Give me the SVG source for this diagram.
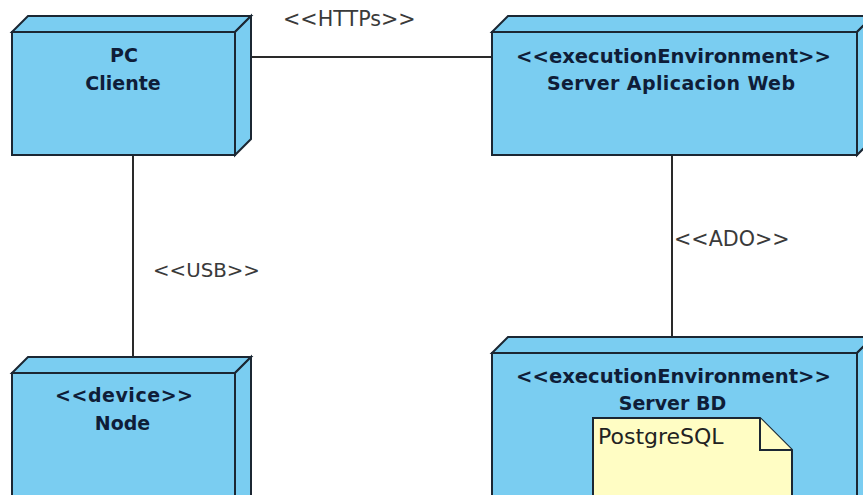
<svg xmlns="http://www.w3.org/2000/svg" width="863" height="495" viewBox="0 0 863 495">
<style>
.box{fill:#7acdf1;stroke:#1b2733;stroke-width:2;stroke-linejoin:miter}
.nt{font-family:"DejaVu Sans",sans-serif;font-weight:bold;font-size:19px;fill:#0f1d38;text-anchor:middle}
.lbl{font-family:"DejaVu Sans",sans-serif;font-size:20.7px;fill:#3a3a3a}
.conn{stroke:#2a2a2a;stroke-width:2;fill:none}
.note{fill:#fffdc4;stroke:#1b2733;stroke-width:2}
</style>
<rect width="863" height="495" fill="#ffffff"/>
<g id="connectors">
<line class="conn" x1="251" y1="57" x2="492" y2="57"/>
<line class="conn" x1="133" y1="155" x2="133" y2="373"/>
<line class="conn" x1="672" y1="155" x2="672" y2="337"/>
<text class="lbl" x="283" y="26">&lt;&lt;HTTPs&gt;&gt;</text>
<text class="lbl" x="153" y="277" style="font-size:19.8px">&lt;&lt;USB&gt;&gt;</text>
<text class="lbl" x="674" y="246">&lt;&lt;ADO&gt;&gt;</text>
</g>
<g id="pc-cliente">
<polygon class="box" points="12,32 28,16 251,16 235,32"/>
<polygon class="box" points="235,32 251,16 251,139 235,155"/>
<rect class="box" x="12" y="32" width="223" height="123"/>
<text class="nt" x="124" y="62">PC</text>
<text class="nt" x="123" y="90">Cliente</text>
</g>
<g id="server-web">
<polygon class="box" points="492,32 508,16 873,16 857,32"/>
<polygon class="box" points="857,32 873,16 873,139 857,155"/>
<rect class="box" x="492" y="32" width="365" height="123"/>
<text class="nt" x="673.5" y="63" style="font-size:19.6px">&lt;&lt;executionEnvironment&gt;&gt;</text>
<text class="nt" x="671" y="90" textLength="248">Server Aplicacion Web</text>
</g>
<g id="node-device">
<polygon class="box" points="12,373 28,357 251,357 235,373"/>
<polygon class="box" points="235,373 251,357 251,500 235,510"/>
<rect class="box" x="12" y="373" width="223" height="140"/>
<text class="nt" x="124" y="402" textLength="138">&lt;&lt;device&gt;&gt;</text>
<text class="nt" x="122.5" y="430">Node</text>
</g>
<g id="server-bd">
<polygon class="box" points="492,353 508,337 873,337 857,353"/>
<polygon class="box" points="857,353 873,337 873,500 857,510"/>
<rect class="box" x="492" y="353" width="365" height="160"/>
<text class="nt" x="673.5" y="383" style="font-size:19.6px">&lt;&lt;executionEnvironment&gt;&gt;</text>
<text class="nt" x="672.5" y="410">Server BD</text>
<g id="note-postgresql">
<polygon class="note" points="593,418 760,418 792,450 792,510 593,510"/>
<polyline class="note" points="760,418 760,450 792,450"/>
<text class="lbl" x="598" y="444" style="fill:#222;font-size:22px">PostgreSQL</text>
</g>
</g>
</svg>
